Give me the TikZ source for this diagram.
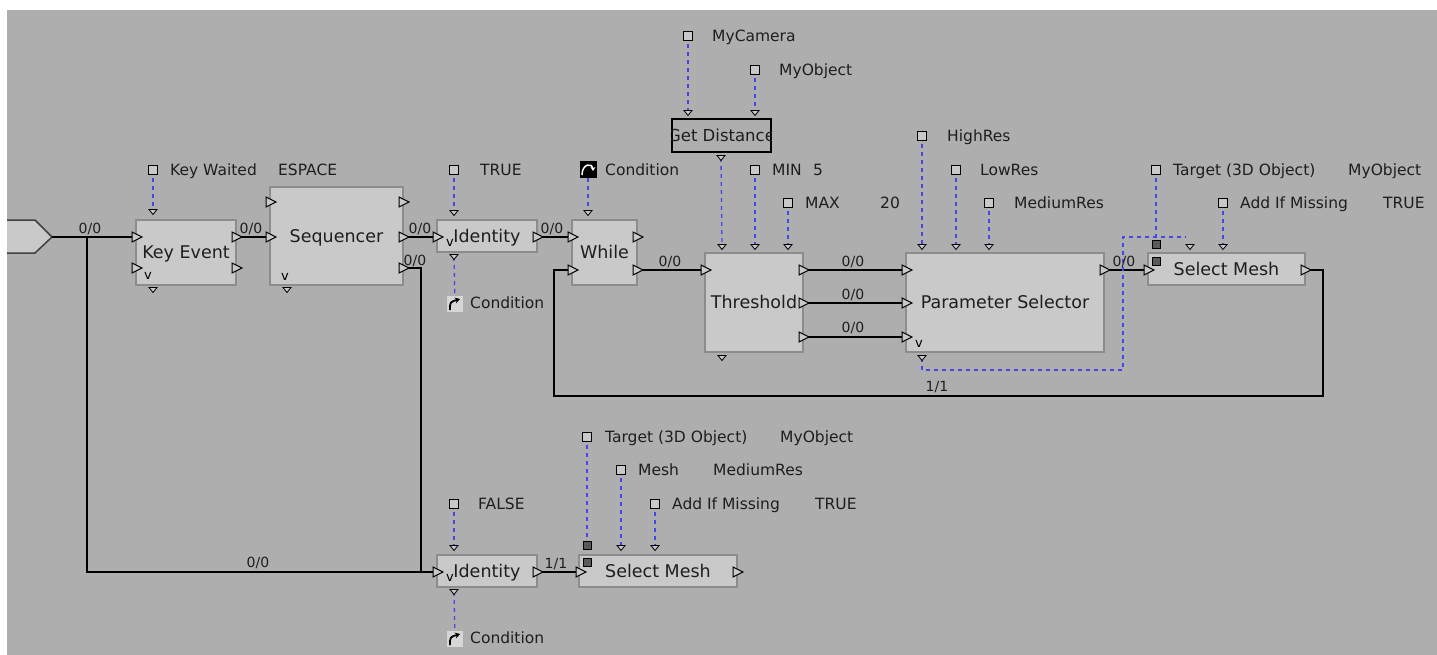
\documentclass[tikz,border=0pt]{standalone}
\usepackage{fontspec}
\setmainfont{DejaVu Sans}
\usetikzlibrary{arrows.meta}
\definecolor{bgc}{HTML}{AEAEAE}
\definecolor{boxf}{HTML}{C9C9C9}
\definecolor{boxd}{HTML}{8C8C8C}
\definecolor{dotb}{HTML}{4646E6}
\definecolor{txt}{HTML}{1E1E1E}
\definecolor{darksq}{HTML}{5A5A5A}
\definecolor{iconf}{HTML}{D6D6D6}
\begin{document}
\begin{tikzpicture}[x=1pt,y=-1pt,
 blk/.style={draw=boxd,line width=1.8pt,fill=boxf,inner sep=0pt,text=txt,font=\fontsize{17.5}{20}\selectfont,text height=12.8pt,text depth=0pt},
 lbl/.style={anchor=west,inner sep=0pt,text=txt,font=\fontsize{15.5}{18}\selectfont,text height=11.3pt,text depth=0pt},
 wl/.style={inner sep=0pt,text=txt,font=\fontsize{14}{16}\selectfont,text height=10.2pt,text depth=0pt},
 vmark/.style={inner sep=0pt,text=black,font=\fontsize{13}{13}\selectfont},
 wire/.style={draw=black,line width=1.5pt},
 dots/.style={draw=dotb,line width=1.3pt,dash pattern=on 4pt off 4pt},
 portst/.style={draw=black,fill=boxf,line width=1pt,line join=miter},
 pport/.pic={\draw[portst] (-4,-5)--(6,0)--(-4,5)--cycle;},
 dport/.pic={\draw[portst,line width=0.8pt] (-4,-2.5)--(4,-2.5)--(0,2.5)--cycle;},
 psq/.pic={\draw[draw=black,fill=boxf,line width=1pt] (-4.5,-4.5) rectangle (4.5,4.5);},
 dsq/.pic={\draw[draw=black,fill=darksq,line width=1pt] (-4,-4) rectangle (4,4);},
]
\fill[white] (0,0) rectangle (1437,655);
\fill[bgc] (7,10) rectangle (1437,655);
\useasboundingbox (0,0) rectangle (1437,655);

% ---------- port coordinates ----------
\coordinate (entry) at (52,237);
\coordinate (br) at (87,237);
\coordinate (kei1) at (136,237); \coordinate (kei2) at (136,268);
\coordinate (keo1) at (236,237); \coordinate (keo2) at (236,268);
\coordinate (ket) at (153,212);  \coordinate (keb) at (153,290);
\coordinate (sqi1) at (270,202); \coordinate (sqi2) at (270,237);
\coordinate (sqo1) at (403,202); \coordinate (sqo2) at (403,237); \coordinate (sqo3) at (403,268);
\coordinate (sqb) at (287,290);
\coordinate (i1i) at (437,237); \coordinate (i1o) at (537,237);
\coordinate (i1t) at (454,213); \coordinate (i1b) at (454,257);
\coordinate (whi1) at (572,237); \coordinate (whi2) at (572,270);
\coordinate (who1) at (637,237); \coordinate (who2) at (637,270);
\coordinate (wht) at (588,213);
\coordinate (gdt1) at (688,113); \coordinate (gdt2) at (755,113); \coordinate (gdb) at (721,158);
\coordinate (thi) at (705,270);
\coordinate (tho1) at (803,270); \coordinate (tho2) at (803,303); \coordinate (tho3) at (803,337);
\coordinate (tht1) at (722,247); \coordinate (tht2) at (755,247); \coordinate (tht3) at (788,247);
\coordinate (thb) at (722,358);
\coordinate (psi1) at (906,270); \coordinate (psi2) at (906,303); \coordinate (psi3) at (906,337);
\coordinate (pso) at (1104,270);
\coordinate (pst1) at (922,247); \coordinate (pst2) at (956,247); \coordinate (pst3) at (989,247);
\coordinate (psb) at (922,358);
\coordinate (s1i) at (1148,270); \coordinate (s1o) at (1305,270);
\coordinate (s1t1) at (1190,247); \coordinate (s1t2) at (1223,247);
\coordinate (s1q1) at (1156,244); \coordinate (s1q2) at (1156,261);
\coordinate (i2i) at (437,572); \coordinate (i2o) at (537,572);
\coordinate (i2t) at (454,548); \coordinate (i2b) at (454,592);
\coordinate (s2i) at (580,572); \coordinate (s2o) at (737,572);
\coordinate (s2t1) at (621,548); \coordinate (s2t2) at (655,548);
\coordinate (s2q1) at (587,545); \coordinate (s2q2) at (587,562);
% parameter squares
\coordinate (pKW) at (153,170); \coordinate (pT1) at (454,170); \coordinate (pWC) at (588,170);
\coordinate (pCam) at (688,36); \coordinate (pObj) at (755,70);
\coordinate (pMin) at (755,170); \coordinate (pMax) at (788,203);
\coordinate (pHi) at (922,136); \coordinate (pLo) at (956,170); \coordinate (pMed) at (989,203);
\coordinate (pTg1) at (1156,170); \coordinate (pAdd1) at (1223,203);
\coordinate (pF) at (454,504); \coordinate (pTg2) at (587,437);
\coordinate (pMesh) at (621,470); \coordinate (pAdd2) at (655,504);
\coordinate (pC1) at (455,304); \coordinate (pC2) at (455,639);
% bends
\coordinate (sqbend) at (421,268);
\coordinate (lp1) at (1323,270); \coordinate (lp2) at (1323,396);
\coordinate (lp3) at (554,396);  \coordinate (lp4) at (554,270);
\coordinate (dl1) at (922,370); \coordinate (dl2) at (1123,370);
\coordinate (dl3) at (1123,237); \coordinate (dl4) at (1186,237);

% ---------- entry shape ----------
\draw[draw=black!75,fill=boxf,line width=1.5pt] (7,220) -- (35,220) -- (entry) -- (35,253) -- (7,253);

% ---------- wires ----------
\draw[wire] (entry) -- (kei1);
\draw[wire] (br) -- (br |- i2i) -- (i2i);
\draw[wire] (keo1) -- (sqi2);
\draw[wire] (sqo2) -- (i1i);
\draw[wire] (sqo3) -- (sqbend) -- (sqbend |- i2i);
\draw[wire] (i1o) -- (whi1);
\draw[wire] (who2) -- (thi);
\draw[wire] (tho1) -- (psi1);
\draw[wire] (tho2) -- (psi2);
\draw[wire] (tho3) -- (psi3);
\draw[wire] (pso) -- (s1i);
\draw[wire] (s1o) -- (lp1) -- (lp2) -- (lp3) -- (lp4) -- (whi2);
\draw[wire] (i2o) -- (s2i);

% ---------- dotted links ----------
\draw[dots] (pKW) -- (ket);
\draw[dots] (pT1) -- (i1t);
\draw[dots] (i1b) -- (pC1);
\draw[dots] (pWC) -- (wht);
\draw[dots] (pCam) -- (gdt1);
\draw[dots] (pObj) -- (gdt2);
\draw[dots] (gdb) -- (tht1);
\draw[dots] (pMin) -- (tht2);
\draw[dots] (pMax) -- (tht3);
\draw[dots] (pHi) -- (pst1);
\draw[dots] (pLo) -- (pst2);
\draw[dots] (pMed) -- (pst3);
\draw[dots] (pTg1) -- (s1q1);
\draw[dots] (pAdd1) -- (s1t2);
\draw[dots] (psb) -- (dl1) -- (dl2) -- (dl3) -- (dl4);
\draw[dots] (pF) -- (i2t);
\draw[dots] (i2b) -- (pC2);
\draw[dots] (pTg2) -- (s2q1);
\draw[dots] (pMesh) -- (s2t1);
\draw[dots] (pAdd2) -- (s2t2);

% ---------- blocks ----------
\node[blk,minimum width=100pt,minimum height=65pt] (ke) at (186,252.5) {Key Event};
\node[blk,minimum width=133pt,minimum height=98pt] (seq) at (336.5,236) {Sequencer};
\node[blk,minimum width=100pt,minimum height=32pt] (id1) at (487,236) {Identity};
\node[blk,minimum width=65pt,minimum height=65pt] (wh) at (604.5,252.5) {While};
\node[blk,minimum width=98pt,minimum height=99pt] (th) at (754,302.5) {Threshold};
\node[blk,minimum width=198pt,minimum height=99pt] (ps) at (1005,302.5) {Parameter Selector};
\node[blk,minimum width=157pt,minimum height=32pt] (sm1) at (1226.5,269) {Select Mesh};
\node[blk,minimum width=100pt,minimum height=32pt] (id2) at (487,571) {Identity};
\node[blk,minimum width=158pt,minimum height=32pt] (sm2) at (658,571) {Select Mesh};
\node[draw=black,line width=1.5pt,fill=bgc,minimum width=99pt,minimum height=33pt,inner sep=0pt] (gd) at (721.5,135.5) {};
\begin{scope}
\clip (gd.south west) rectangle (gd.north east);
\node[inner sep=0pt,text=txt,font=\fontsize{16.5}{18}\selectfont,text height=12pt,text depth=0pt] (gdtext) at (721.5,136) {Get Distance};
\end{scope}

% v marks
\node[vmark] (v1) at (148,276) {v};
\node[vmark] (v2) at (285,277) {v};
\node[vmark] (v3) at (450,243) {v};
\node[vmark] (v4) at (919,344) {v};
\node[vmark] (v5) at (450,578) {v};

% ---------- wire labels ----------
\node[wl] (w1) at (90,228) {0/0};
\node[wl] (w2) at (251,228) {0/0};
\node[wl] (w3) at (420,228) {0/0};
\node[wl] (w4) at (415,260) {0/0};
\node[wl] (w5) at (552,228) {0/0};
\node[wl] (w6) at (670,261) {0/0};
\node[wl] (w7) at (853,261) {0/0};
\node[wl] (w8) at (853,294) {0/0};
\node[wl] (w9) at (853,327) {0/0};
\node[wl] (w10) at (1124,261) {0/0};
\node[wl] (w11) at (937,386) {1/1};
\node[wl] (w12) at (258,562) {0/0};
\node[wl] (w13) at (556,563) {1/1};

% ---------- ports ----------
\foreach \p in {kei1,kei2,keo1,keo2,sqi1,sqi2,sqo1,sqo2,sqo3,i1i,i1o,whi1,whi2,who1,who2,
  thi,tho1,tho2,tho3,psi1,psi2,psi3,pso,s1i,s1o,i2i,i2o,s2i,s2o}
  \pic at (\p) {pport};
\foreach \p in {ket,keb,sqb,i1t,i1b,wht,gdt1,gdt2,gdb,tht1,tht2,tht3,thb,pst1,pst2,pst3,psb,
  s1t1,s1t2,i2t,i2b,s2t1,s2t2}
  \pic at (\p) {dport};
\foreach \p in {s1q1,s1q2,s2q1,s2q2}
  \pic at (\p) {dsq};
\foreach \p in {pKW,pT1,pCam,pObj,pMin,pMax,pHi,pLo,pMed,pTg1,pAdd1,pF,pTg2,pMesh,pAdd2}
  \pic at (\p) {psq};

% ---------- condition icons ----------
\node[fill=iconf,minimum size=16pt,inner sep=0pt] (ic1) at (pC1) {};
\draw[black,line width=1.8pt,-{Stealth[length=5pt,width=6pt]}] (450,310) .. controls (450,302) .. (460,299);
\node[fill=iconf,minimum size=16pt,inner sep=0pt] (ic2) at (pC2) {};
\draw[black,line width=1.8pt,-{Stealth[length=5pt,width=6pt]}] (450,645) .. controls (450,637) .. (460,634);
\node[fill=black,minimum size=17pt,inner sep=0pt] (ic0) at (pWC) {};
\draw[white,line width=1.5pt,-{Stealth[length=4pt,width=5pt]}] (582,175) .. controls (582,163) and (593,163) .. (593,171);

% ---------- parameter labels ----------
\node[lbl] (tKW) at (170,170) {Key Waited};
\node[lbl] (tKWv) at (278,170) {ESPACE};
\node[lbl] (tT1) at (480,170) {TRUE};
\node[lbl] (tWC) at (605,170) {Condition};
\node[lbl] (tCam) at (712,36) {MyCamera};
\node[lbl] (tObj) at (779,70) {MyObject};
\node[lbl] (tMin) at (772,170) {MIN};
\node[lbl] (tMinv) at (813,170) {5};
\node[lbl] (tMax) at (805,203) {MAX};
\node[lbl] (tMaxv) at (880,203) {20};
\node[lbl] (tHi) at (947,136) {HighRes};
\node[lbl] (tLo) at (980,170) {LowRes};
\node[lbl] (tMed) at (1014,203) {MediumRes};
\node[lbl] (tTg1) at (1173,170) {Target (3D Object)};
\node[lbl] (tTg1v) at (1348,170) {MyObject};
\node[lbl] (tAdd1) at (1240,203) {Add If Missing};
\node[lbl] (tAdd1v) at (1383,203) {TRUE};
\node[lbl] (tC1) at (470,303) {Condition};
\node[lbl] (tF) at (478,504) {FALSE};
\node[lbl] (tTg2) at (605,437) {Target (3D Object)};
\node[lbl] (tTg2v) at (780,437) {MyObject};
\node[lbl] (tMesh) at (638,470) {Mesh};
\node[lbl] (tMeshv) at (713,470) {MediumRes};
\node[lbl] (tAdd2) at (672,504) {Add If Missing};
\node[lbl] (tAdd2v) at (815,504) {TRUE};
\node[lbl] (tC2) at (470,638) {Condition};
\end{tikzpicture}
\end{document}
